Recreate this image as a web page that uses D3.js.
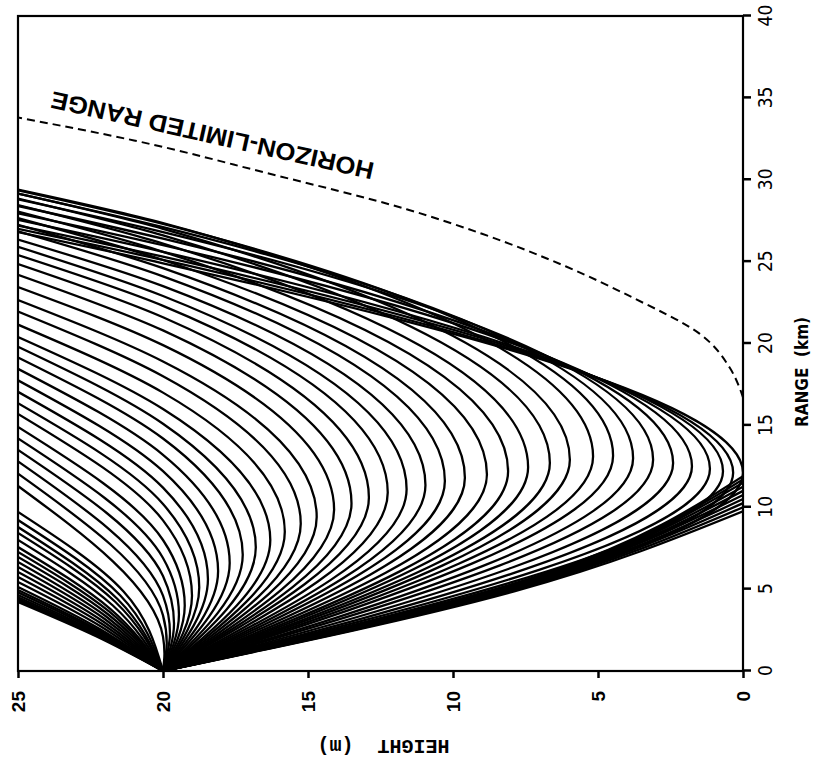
<!DOCTYPE html>
<html>
<head>
<meta charset="utf-8">
<script src="https://cdn.jsdelivr.net/npm/d3@7"></script>
<style>
  body { margin: 0; background: #fff; }
  svg { display: block; }
</style>
</head>
<body>
<div id="chart"></div>
<script>
// tick labels
const rangeTicks = [0, 5, 10, 15, 20, 25, 30, 35, 40];   // km
const heightTicks = [0, 5, 10, 15, 20, 25];               // m

const sourceRange = 0;
const sourceHeight = 20;
const topHeight = 25;

// rays going up: range where each one leaves the top (25 m), height at half that range
const upEndRange = [4.21, 4.30, 4.40, 4.50, 4.64, 4.80, 4.95, 5.13, 5.44, 5.74, 6.05,
  6.35, 6.66, 6.96, 7.27, 7.57, 8.00, 8.43, 8.79, 9.22, 9.71];
const upMidHeight = [22.29, 22.28, 22.27, 22.25, 22.24, 22.22, 22.20, 22.18, 22.14, 22.10, 22.06,
  22.01, 21.96, 21.91, 21.86, 21.81, 21.73, 21.64, 21.57, 21.47, 21.36];

// rays bending back up: lowest height, range of that point, range back at 20 m, range at 25 m
const turnHeight = [19.95, 19.87, 19.76, 19.62, 19.45, 19.25, 19.0, 18.75, 18.45, 18.1,
  17.7, 17.25, 16.8, 16.3, 15.8, 15.25, 14.7, 14.1, 13.5, 12.9,
  12.25, 11.6, 10.95, 10.28, 9.59, 8.83, 8.10, 7.41, 6.66, 5.97,
  5.17, 4.48, 3.79, 3.10, 2.41, 1.76, 1.14, 0.69, 0.34, 0.0];
const turnRange = [1.06, 1.7, 2.3, 2.9, 3.45, 4.0, 4.6, 5.1, 5.6, 6.1,
  6.6, 7.1, 7.55, 8.0, 8.5, 9.0, 9.4, 9.85, 10.25, 10.6,
  10.9, 11.1, 11.35, 11.6, 11.8, 12.0, 12.2, 12.45, 12.7, 12.9,
  13.1, 13.15, 13.0, 12.9, 12.7, 12.5, 12.35, 12.2, 12.1, 12.1];
const backRange = [2.1, 3.4, 4.6, 5.8, 6.9, 8.0, 9.2, 10.2, 11.2, 12.2,
  13.2, 14.2, 15.1, 16.0, 17.0, 18.0, 18.9, 19.9, 20.8, 21.6,
  22.3, 22.9, 23.5, 24.1, 24.6, 25.1, 25.6, 26.1, 26.6, 27.0,
  27.35, 27.3, 27.1, 26.8, 26.4, 26.0, 25.6, 25.3, 25.1, 24.9];
const turnEndRange = [11.3, 12.05, 12.8, 13.5, 14.2, 14.9, 15.7, 16.35, 17.05, 17.75,
  18.45, 19.15, 19.8, 20.4, 21.15, 21.95, 22.65, 23.45, 24.2, 24.85,
  25.4, 25.9, 26.35, 26.85, 27.25, 27.65, 28.05, 28.45, 28.85, 29.15,
  29.4, 29.35, 29.15, 28.8, 28.4, 27.95, 27.55, 27.2, 27.0, 26.8];

// steepest rays, running into the ground: ground range and height at half way
const groundRange = [9.75, 10.0, 10.25, 10.5, 10.75, 11.0, 11.25, 11.5, 11.7, 11.9];
const groundMidHeight = [7.86, 7.75, 7.64, 7.52, 7.40, 7.28, 7.15, 7.02, 6.92, 6.81];

// horizon-limited range (dashed)
const horizonRange = [16.7, 17.3, 18.5, 20.6, 22.8, 24.7, 26.7, 28.2, 30.4, 32.4, 33.8];
const horizonHeight = [0, 0.12, 0.45, 1.5, 3.8, 6.1, 9.0, 11.6, 16.4, 21.0, 25.0];

// plot drawn in its own frame (range across, height up), then turned a quarter left
const W = 655, H = 725;

const svg = d3.select("#chart").append("svg")
  .attr("width", 832)
  .attr("height", 782);

const g = svg.append("g")
  .attr("transform", "translate(18,671) rotate(-90)");

const x = d3.scaleLinear().domain([0, 40]).range([0, W]);
const y = d3.scaleLinear().domain([0, 25]).range([H, 0]);

g.append("clipPath").attr("id", "plot-clip")
  .append("rect").attr("width", W).attr("height", H);

const line = d3.line()
  .x(d => x(d[0]))
  .y(d => y(d[1]))
  .curve(d3.curveMonotoneX);

const src = [sourceRange, sourceHeight];
const rays = [];
upEndRange.forEach((r, i) => rays.push([src, [r / 2, upMidHeight[i]], [r, topHeight]]));
turnHeight.forEach((h, i) => rays.push([src, [turnRange[i], h], [backRange[i], sourceHeight], [turnEndRange[i], topHeight]]));
groundRange.forEach((r, i) => rays.push([src, [r / 2, groundMidHeight[i]], [r, 0]]));

const plot = g.append("g").attr("clip-path", "url(#plot-clip)");

plot.selectAll(".ray")
  .data(rays)
  .enter().append("path")
  .attr("class", "ray")
  .attr("fill", "none")
  .attr("stroke", "#000")
  .attr("stroke-width", 2.3)
  .attr("d", line);

plot.append("path")
  .datum(horizonRange.map((r, i) => [r, horizonHeight[i]]))
  .attr("fill", "none")
  .attr("stroke", "#000")
  .attr("stroke-width", 2)
  .attr("stroke-dasharray", "8,5")
  .attr("d", line);

// frame
g.append("rect")
  .attr("width", W)
  .attr("height", H)
  .attr("fill", "none")
  .attr("stroke", "#000")
  .attr("stroke-width", 2.2);

// range axis (right side once turned)
g.append("g")
  .attr("transform", "translate(0," + H + ")")
  .call(d3.axisBottom(x)
    .tickValues(rangeTicks)
    .tickSize(8)
    .tickPadding(8)
    .tickFormat(d => d))
  .call(a => a.select(".domain").remove())
  .call(a => a.selectAll("line").attr("stroke-width", 2.5))
  .selectAll("text")
  .attr("font-family", "'Liberation Sans Narrow', 'DejaVu Sans Condensed', sans-serif")
  .attr("font-stretch", "condensed")
  .attr("font-size", 19)
  .attr("fill", "#000");

// height axis (bottom once turned)
g.append("g")
  .call(d3.axisLeft(y)
    .tickValues(heightTicks)
    .tickSize(7)
    .tickPadding(13)
    .tickFormat(d => d))
  .call(a => a.select(".domain").remove())
  .call(a => a.selectAll("line").attr("stroke-width", 2.5))
  .selectAll("text")
  .attr("font-family", "'Liberation Sans', Arial, sans-serif")
  .attr("font-weight", "bold")
  .attr("font-size", 19)
  .attr("fill", "#000");

// axis titles
g.append("text")
  .attr("transform", "translate(" + x(18.26) + "," + (H + 59) + ")")
  .attr("text-anchor", "middle")
  .attr("dominant-baseline", "central")
  .attr("font-family", "'Liberation Sans Narrow', 'DejaVu Sans Condensed', sans-serif")
  .attr("font-stretch", "condensed")
  .attr("font-weight", "bold")
  .attr("font-size", 17)
  .attr("xml:space", "preserve")
  .text("RANGE  (km)");

g.append("text")
  .attr("transform", "translate(-74," + y(12.4) + ") rotate(-90)")
  .attr("text-anchor", "middle")
  .attr("dominant-baseline", "central")
  .attr("font-family", "'Liberation Mono', 'Courier New', monospace")
  .attr("font-weight", "bold")
  .attr("font-size", 20)
  .attr("xml:space", "preserve")
  .text("HEIGHT  (m)");

g.append("text")
  .attr("transform", "translate(" + x(32.7) + "," + y(18.3) + ") rotate(-77.4)")
  .attr("text-anchor", "middle")
  .attr("dominant-baseline", "central")
  .attr("font-family", "'Liberation Sans', Arial, sans-serif")
  .attr("font-weight", "bold")
  .attr("font-size", 24)
  .attr("textLength", 330)
  .attr("lengthAdjust", "spacingAndGlyphs")
  .text("HORIZON-LIMITED RANGE");
</script>
</body>
</html>
